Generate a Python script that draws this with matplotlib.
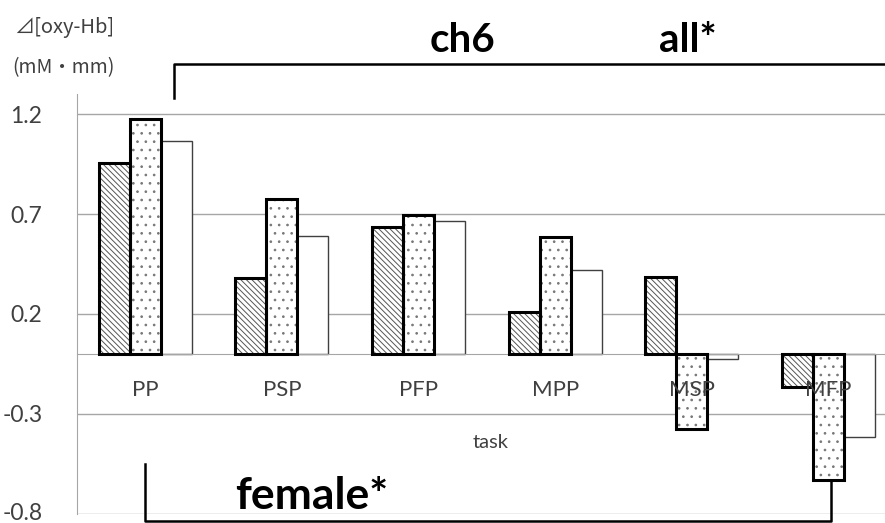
import matplotlib
matplotlib.use('Agg')
import matplotlib.pyplot as plt
import matplotlib.transforms as mtransforms
import numpy as np

plt.rcParams['font.family'] = ['Lato', 'Noto Sans CJK JP', 'DejaVu Sans']
plt.rcParams['hatch.linewidth'] = 0.7

tasks = ['PP', 'PSP', 'PFP', 'MPP', 'MSP', 'MFP']
# three series per task (hatched, dotted, plain)
hatched = [0.955, 0.38, 0.635, 0.21, 0.385, -0.165]
dotted = [1.175, 0.775, 0.695, 0.585, -0.375, -0.63]
plain = [1.065, 0.59, 0.665, 0.42, -0.025, -0.415]
yticks = [-0.8, -0.3, 0.2, 0.7, 1.2]

fig = plt.figure(figsize=(8.85, 5.23), dpi=100)
ax = fig.add_axes([77/885, 9/523, 808/885, 420/523])

x = np.arange(len(tasks))
w = 0.227
# pattern fill in grey, then a thick black outline on top
ax.bar(x - w, hatched, w, facecolor='white', edgecolor='#555555', hatch='\\\\\\\\\\\\', linewidth=0, zorder=3)
ax.bar(x - w, hatched, w, fill=False, edgecolor='black', linewidth=2.2, zorder=4)
ax.bar(x, dotted, w, facecolor='white', edgecolor='#777777', hatch='..', linewidth=0, zorder=3)
ax.bar(x, dotted, w, fill=False, edgecolor='black', linewidth=2.2, zorder=4)
ax.bar(x + w, plain, w, facecolor='white', edgecolor='#404040', linewidth=1.0, zorder=2)

ax.set_xlim(-0.5, -0.5 + 808/136.6)
ax.set_ylim(-0.8, 1.3)
ax.set_yticks(yticks)
ax.set_yticklabels(['%.1f' % v for v in yticks])
ax.yaxis.grid(True, color='#a6a6a6', linewidth=1.0, zorder=0)
ax.set_axisbelow(True)
ax.tick_params(axis='y', length=0, pad=25, labelsize=16.5, labelcolor='#404040')
for lbl in ax.get_yticklabels():
    lbl.set_va('center_baseline')
# nudge the lowest label up a little so it stays inside the picture
lowest = ax.get_yticklabels()[0]
lowest.set_transform(lowest.get_transform() +
                     mtransforms.ScaledTranslation(0, 3/100, fig.dpi_scale_trans))

for s in ['top', 'right']:
    ax.spines[s].set_visible(False)
ax.spines['left'].set_color('#a6a6a6')
ax.spines['bottom'].set_position(('data', 0))
ax.spines['bottom'].set_color('#a6a6a6')
ax.set_xticks([])
for xi, name in zip(x, tasks):
    ax.text(xi, -0.18, name, ha='center', va='center', fontsize=16, color='#404040', zorder=6)

ax.text(2.53, -0.445, 'task', ha='center', va='center', fontsize=14.5, color='#404040')

# y-axis unit labels
fig.text(14/885, 1 - 28/523, '⊿[oxy-Hb]', ha='left', va='center', fontsize=14.5,
         color='#404040', family=['Noto Sans CJK JP', 'DejaVu Sans'])
fig.text(12/885, 1 - 68/523, '(mM・mm)', ha='left', va='center', fontsize=14,
         color='#404040', family=['Noto Sans CJK JP', 'DejaVu Sans'])

# significance brackets
ax.plot([0.21, 0.21, 6.0], [1.28, 1.45, 1.45], color='black', lw=1.8, clip_on=False)
ax.plot([0.0, 0.0, 5.02, 5.02], [-0.55, -0.835, -0.835, -0.55], color='black', lw=1.8, clip_on=False)
ax.text(2.32, 1.57, 'ch6', ha='center', va='center', fontsize=29, fontweight='bold')
ax.text(3.97, 1.57, 'all*', ha='center', va='center', fontsize=29, fontweight='bold')
ax.text(1.22, -0.71, 'female*', ha='center', va='center', fontsize=32, fontweight='bold')

fig.savefig('out.png', dpi=100)
